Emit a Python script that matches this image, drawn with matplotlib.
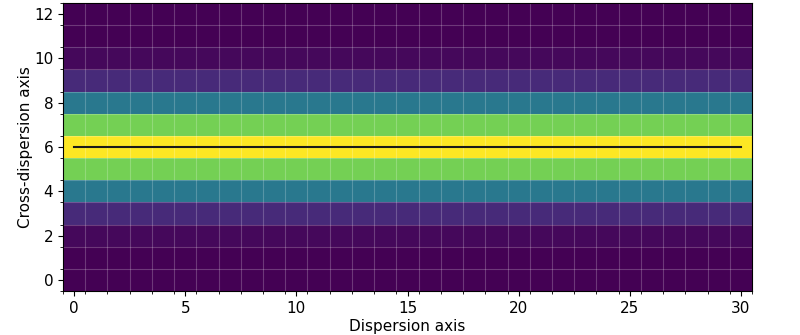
import matplotlib.pyplot as plt
import numpy as np

# normalised cross-dispersion profile, one value per row (rows 0..12)
profile = [0.0, 0.0, 0.02, 0.12, 0.40, 0.79, 1.0, 0.79, 0.40, 0.12, 0.02, 0.0, 0.0]
n_disp = 31
trace_x = [0, 30]
trace_y = [6, 6]

image = np.tile(np.array(profile)[:, None], (1, n_disp))

fig = plt.figure(figsize=(8, 3.35), dpi=100)
ax = fig.add_axes([63 / 800, 44 / 335, 689 / 800, 288 / 335])
ax.imshow(image, origin='lower', aspect='auto', cmap='viridis',
          interpolation='nearest', vmin=0, vmax=1)
ax.plot(trace_x, trace_y, color='#1a1a1a', lw=1.5)

# pixel boundaries as minor ticks + faint grid
ax.set_xticks(np.arange(-0.5, n_disp, 1), minor=True)
ax.set_yticks(np.arange(-0.5, len(profile), 1), minor=True)
ax.grid(which='minor', color='white', alpha=0.22, lw=0.8)
ax.tick_params(which='major', labelsize=11)

ax.set_xlabel('Dispersion axis', fontsize=11, labelpad=2)
ax.set_ylabel('Cross-dispersion axis', fontsize=11, labelpad=1)

fig.savefig('out.png', dpi=100)
